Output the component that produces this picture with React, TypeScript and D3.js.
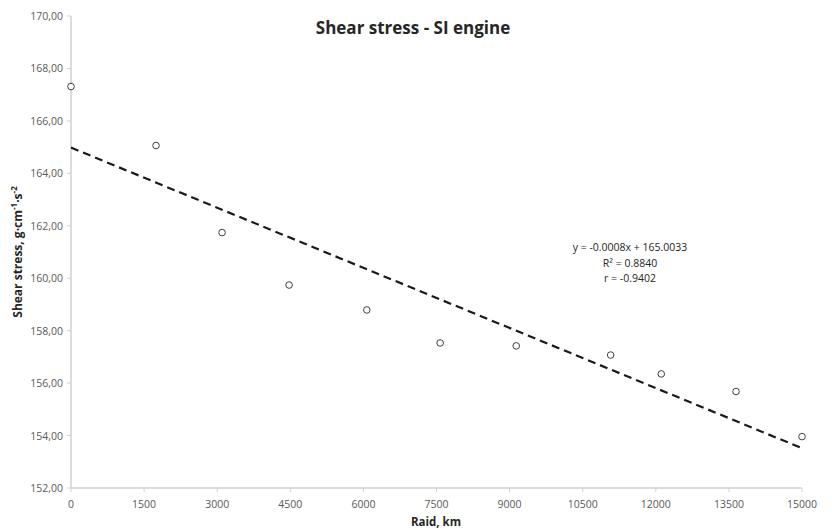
import React from 'react';
import * as d3 from 'd3';

// raid (km) and measured shear stress
const raidKm = [0, 1745, 3100, 4475, 6070, 7575, 9136, 11074, 12112, 13646, 15000];
const shearStress = [167.31, 165.06, 161.74, 159.74, 158.79, 157.53, 157.42, 157.07, 156.35, 155.68, 153.96];

const xTicks = [0, 1500, 3000, 4500, 6000, 7500, 9000, 10500, 12000, 13500, 15000];
const yTicks = [152, 154, 156, 158, 160, 162, 164, 166, 168, 170];
const equationLines = ['y = -0.0008x + 165.0033', 'R² = 0.8840', 'r = -0.9402'];

const W = 832;
const H = 529;
const margin = { top: 16, right: 30, bottom: 41, left: 71 };

const FONT = "'Open Sans', 'Liberation Sans', sans-serif";

const App = () => {
  const x = d3.scaleLinear().domain([0, 15000]).range([margin.left, 802]);
  const y = d3.scaleLinear().domain([152, 170]).range([H - margin.bottom, margin.top]);

  // least squares trend line
  const mx = d3.mean(raidKm) as number;
  const my = d3.mean(shearStress) as number;
  let sxy = 0;
  let sxx = 0;
  raidKm.forEach((v, i) => {
    sxy += (v - mx) * (shearStress[i] - my);
    sxx += (v - mx) * (v - mx);
  });
  const slope = sxy / sxx;
  const intercept = my - slope * mx;
  const trend = d3.line<number>()
    .x(d => x(d))
    .y(d => y(intercept + slope * d));

  const axisColor = '#d0d0d0';
  const labelColor = '#595959';

  return (
    <svg width={W} height={H} style={{ position: 'absolute', left: 0, top: 0, background: '#fff' }}>
      <text x={413} y={34} textAnchor="middle" fontFamily={FONT} fontWeight="bold" fontSize={17} fill="#262626">
        Shear stress - SI engine
      </text>

      {/* y axis */}
      <line x1={x(0)} x2={x(0)} y1={y(152)} y2={y(170)} stroke={axisColor} strokeWidth={1.5} />
      {yTicks.map(t => (
        <g key={t}>
          <line x1={x(0) - 4} x2={x(0)} y1={y(t)} y2={y(t)} stroke={axisColor} />
          <text x={x(0) - 8} y={y(t) + 4} textAnchor="end" fontFamily={FONT} fontSize={10.5} fill={labelColor}>
            {d3.format('.2f')(t).replace('.', ',')}
          </text>
        </g>
      ))}

      {/* x axis */}
      <line x1={x(0)} x2={x(15000)} y1={y(152)} y2={y(152)} stroke={axisColor} strokeWidth={1.5} />
      {xTicks.map(t => (
        <g key={t}>
          <line x1={x(t)} x2={x(t)} y1={y(152)} y2={y(152) + 4} stroke={axisColor} />
          <text x={x(t)} y={y(152) + 20} textAnchor="middle" fontFamily={FONT} fontSize={10.5} fill={labelColor}>
            {t}
          </text>
        </g>
      ))}

      <text x={436} y={526} textAnchor="middle" fontFamily={FONT} fontWeight="bold" fontSize={11.5} fill="#262626">
        Raid, km
      </text>
      <text transform={`translate(22,${(y(152) + y(170)) / 2}) rotate(-90)`} textAnchor="middle"
        fontFamily={FONT} fontWeight="bold" fontSize={12} fill="#262626">
        Shear stress, g·cm<tspan fontSize={8} dy={-5}>-1</tspan><tspan dy={5}>·s</tspan><tspan fontSize={8} dy={-5}>-2</tspan>
      </text>

      <path d={trend([0, 15000]) as string} fill="none" stroke="#1a1a1a" strokeWidth={2.2} strokeDasharray="8,5" />

      {raidKm.map((v, i) => (
        <circle key={i} cx={x(v)} cy={y(shearStress[i])} r={3.3} fill="#fff" stroke="#404040" strokeWidth={1} />
      ))}

      {equationLines.map((s, i) => (
        <text key={s} x={630} y={251 + i * 15.5} textAnchor="middle" fontFamily={FONT} fontSize={10.5} fill="#262626">
          {s}
        </text>
      ))}
    </svg>
  );
};

export default App;
